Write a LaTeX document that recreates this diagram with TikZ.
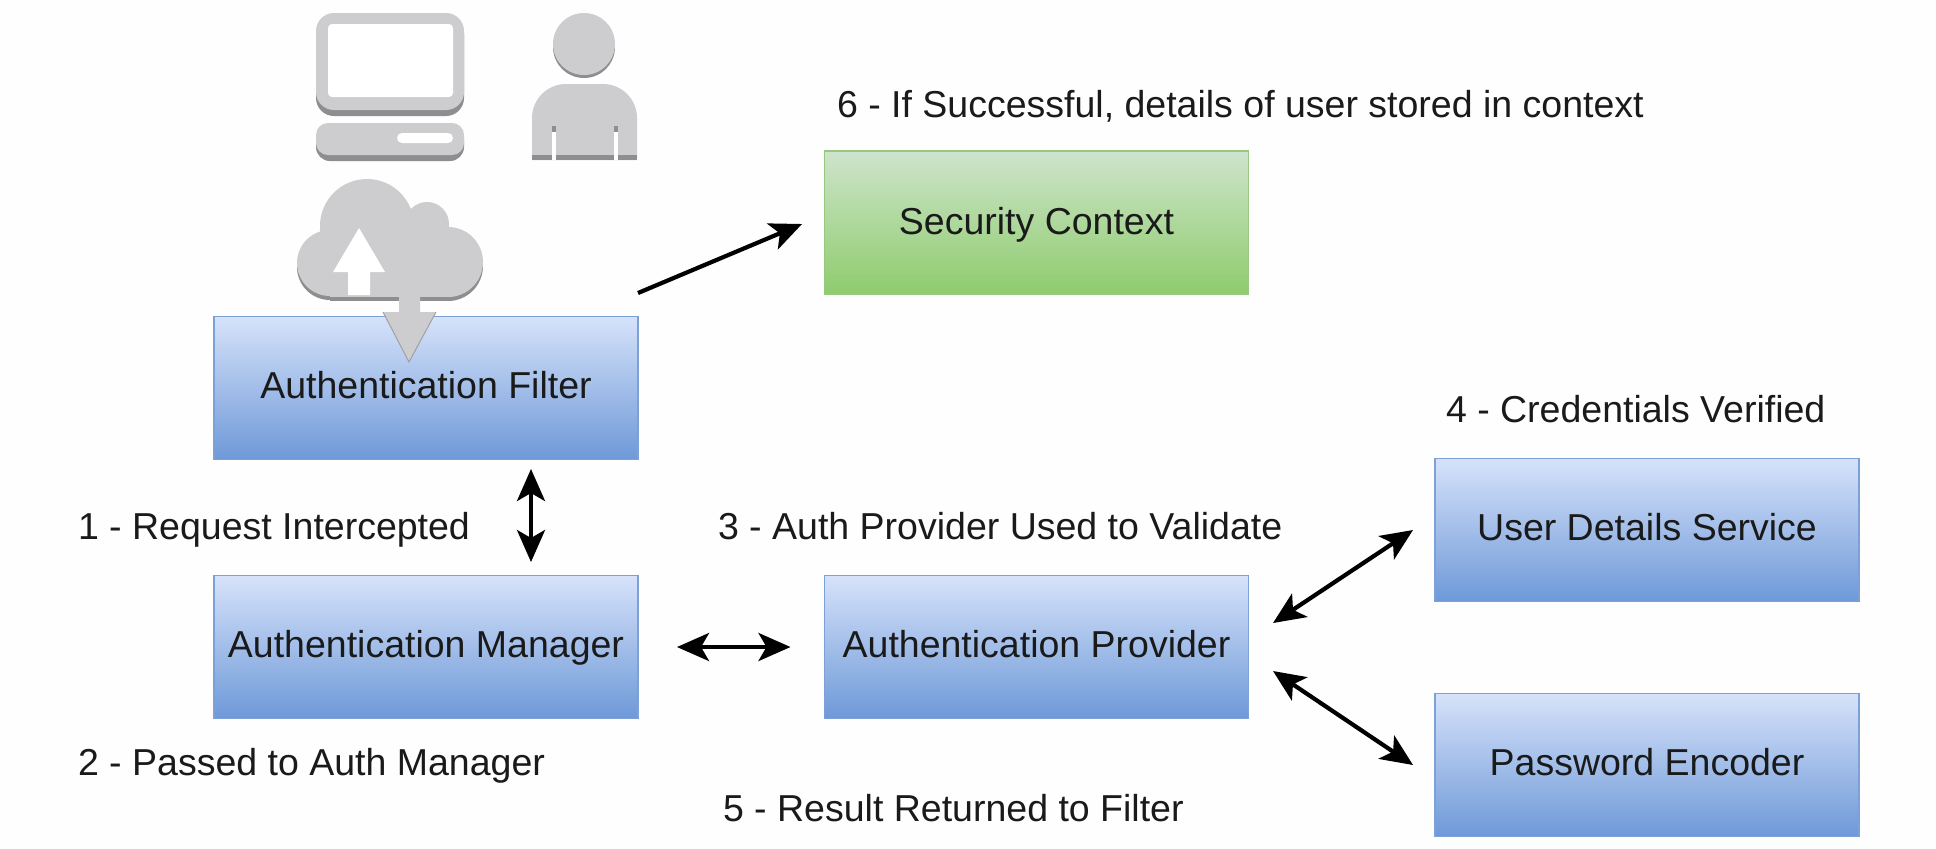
\documentclass[tikz,border=0pt]{standalone}
\usepackage{fontspec}
\setmainfont{Liberation Sans}
\usetikzlibrary{arrows.meta}
\definecolor{icong}{HTML}{CDCCCE}
\definecolor{icond}{HTML}{8E8D8F}
\definecolor{ink}{HTML}{1A1A1A}
\definecolor{bluestroke}{RGB}{125,160,215}
\definecolor{bluetop}{RGB}{214,226,250}
\definecolor{bluebot}{RGB}{110,153,216}
\definecolor{greenstroke}{RGB}{150,200,130}
\definecolor{greentop}{RGB}{206,228,204}
\definecolor{greenbot}{RGB}{142,204,108}
\tikzset{
 flowbox/.style={rectangle,line width=0.8pt,minimum width=212pt,minimum height=71.5pt,inner sep=0pt,outer sep=0pt,font=\fontsize{18.75}{22}\selectfont,text=ink,text height=13.5pt,text depth=3.5pt},
 bluebox/.style={flowbox,draw=bluestroke,top color=bluetop,bottom color=bluebot},
 greenbox/.style={flowbox,draw=greenstroke,top color=greentop,bottom color=greenbot,text height=14.5pt,text depth=2.5pt},
 steplabel/.style={anchor=west,inner sep=0pt,outer sep=0pt,font=\fontsize{18.75}{22}\selectfont,text=ink,text height=13.5pt,text depth=3.5pt},
 flowarrow/.style={line width=2.1pt,draw=black,{Stealth[length=16pt,width=14pt,inset=4pt]}-{Stealth[length=16pt,width=14pt,inset=4pt]}},
 onearrow/.style={line width=2.1pt,draw=black,-{Stealth[length=16pt,width=14pt,inset=4pt]}},
}
\begin{document}
\begin{tikzpicture}[x=0.5pt,y=-0.5pt]
\useasboundingbox (0,0) rectangle (1936,848);
\fill[white!99.5!black] (0,0) rectangle (1936,848);
% monitor
\fill[icond,rounded corners=9pt] (316,16) rectangle (464,116);
\fill[icong,rounded corners=9pt] (316,13) rectangle (464,110);
\fill[white,rounded corners=2pt] (328,24) rectangle (453,97);
\fill[icond,rounded corners=7pt] (316,126) rectangle (464,161);
\fill[icong,rounded corners=6pt] (316,123) rectangle (464,155);
\fill[white,rounded corners=2.5pt] (397,133) rectangle (453,143);
% person
\fill[icond] (584,47) circle [radius=15.5pt];
\fill[icong] (584,44) circle [radius=15.5pt];
\fill[icong] (532,160) -- (532,118) arc[start angle=180,end angle=90,radius=17pt] -- (603,84) arc[start angle=90,end angle=0,radius=17pt] -- (637,160) -- cycle;
\fill[icond] (532,155) rectangle (637,160);
\fill[white] (552,130) rectangle (556,160);
\fill[white] (614,130) rectangle (618,160);
\fill[icond] (552,126) rectangle (556,132);
\fill[icond] (614,126) rectangle (618,132);
% cloud
\foreach \dy/\col in {4/icond,0/icong}{
 \begin{scope}[yshift=-\dy*0.5pt]
  \fill[\col] (367,226) circle [radius=23.5pt];
  \fill[\col] (427,224) circle [radius=11pt];
  \fill[\col] (330,263) circle [radius=16.5pt];
  \fill[\col] (448,262) circle [radius=17.5pt];
  \fill[\col] (330,235) rectangle (448,296.5);
 \end{scope}
}
\fill[white] (359,228) -- (385,272) -- (370,272) -- (370,295) -- (348,295) -- (348,272) -- (333,272) -- cycle;
% boxes
\node[bluebox] (filter) at (426,388) {Authentication Filter};
\node[bluebox] (manager) at (426,647) {Authentication Manager};
\node[bluebox] (provider) at (1036.5,647) {Authentication Provider};
\node[greenbox] (context) at (1036.5,222.5) {Security Context};
\node[bluebox] (details) at (1647,530) {User Details Service};
\node[bluebox] (encoder) at (1647,765) {Password Encoder};
% cloud arrow over the filter box
\fill[icong] (399,293) -- (420,293) -- (420,312) -- (436,312) -- (409,362) -- (383,312) -- (399,312) -- cycle;
\draw[icond!70!icong,line width=0.5pt] (383,312) -- (409,362) -- (436,312);
% labels
\node[steplabel] (l1) at (78,529) {1 - Request Intercepted};
\node[steplabel] (l2) at (78,765) {2 - Passed to Auth Manager};
\node[steplabel] (l3) at (718,529) {3 - Auth Provider Used to Validate};
\node[steplabel] (l4) at (1446,412) {4 - Credentials Verified};
\node[steplabel] (l5) at (723,811) {5 - Result Returned to Filter};
\node[steplabel] (l6) at (837,107) {6 - If Successful, details of user stored in context};
% connector ends
\coordinate (fs) at (531,469);
\coordinate (mn) at (531,562);
\coordinate (fo) at (638,293);
\coordinate (ci) at (802,224);
\coordinate (pa) at (1273,623);
\coordinate (da) at (1413,530);
\coordinate (pb) at (1273,671);
\coordinate (eb) at (1413,765);
\draw[flowarrow] (fs) -- (mn);
\draw[onearrow] (fo) -- (ci);
\draw[flowarrow,shorten <=19.5pt,shorten >=17pt] (manager.east) -- (provider.west);
\draw[flowarrow] (pa) -- (da);
\draw[flowarrow] (pb) -- (eb);
\end{tikzpicture}
\end{document}
